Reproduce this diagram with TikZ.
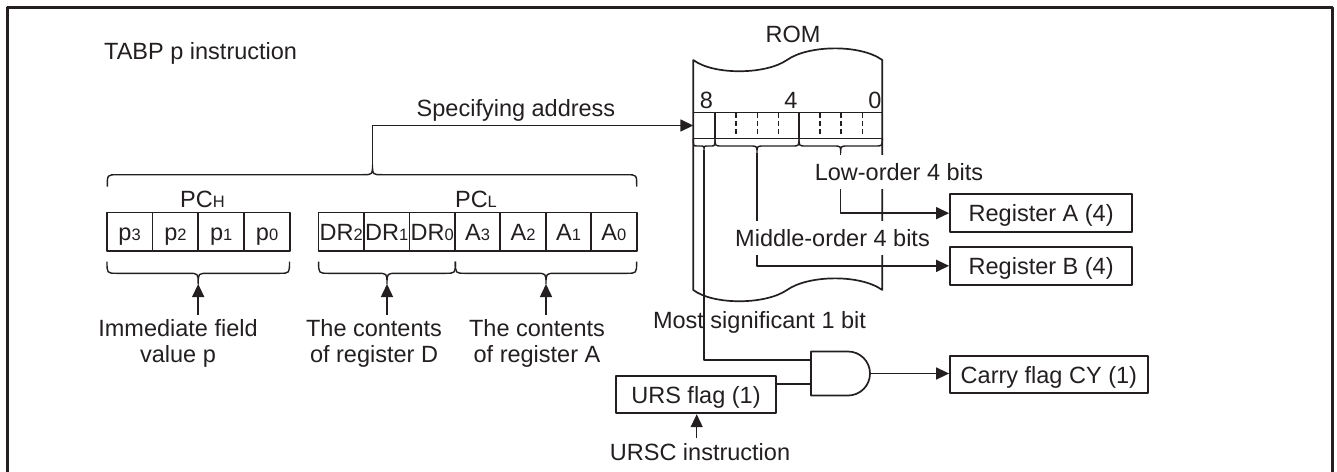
\documentclass[tikz,border=0pt]{standalone}
\usepackage{fontspec}
\setmainfont{Liberation Sans}
\usetikzlibrary{arrows.meta}
\definecolor{ink}{HTML}{231F20}
\newcommand\sbs[1]{{\fontsize{16.5}{16.5}\selectfont #1}}
% x1 x2 xmid yend ybar ytip radius
\newcommand\mybrace[7]{\draw[brc] (#1,#4) .. controls (#1,#5) .. ({#1+#7},#5) -- ({#3-#7},#5) .. controls (#3,#5) .. (#3,#6) .. controls (#3,#5) .. ({#3+#7},#5) -- ({#2-#7},#5) .. controls (#2,#5) .. (#2,#4);}
\begin{document}
\begin{tikzpicture}[x=1pt,y=-1pt,font=\fontsize{23.5}{26}\selectfont,color=ink,line join=round,
  box/.style={draw,line width=1.8pt,inner sep=0pt,text height=17pt,text depth=0pt},
  cell/.style={box,line width=1.6pt,minimum width=45.6pt,minimum height=38.4pt},
  conn/.style={line width=1.5pt},
  arr/.style={conn,-{Triangle[length=13pt,width=12pt]}},
  lbl/.style={inner sep=0pt,anchor=base},
  wlbl/.style={fill=white,inner xsep=2pt,inner ysep=0pt,text height=25.5pt,text depth=8pt,anchor=base},
  ml/.style={align=center,inner sep=0pt,anchor=north},
  brc/.style={line width=1.4pt}]
\useasboundingbox (0,0) rectangle (1337,471);
\begin{scope}
\clip (0,0) rectangle (1337,471);
\draw[line width=2.4pt] (7.3,480) -- (7.3,7.3) -- (1332.5,7.3) -- (1332.5,480);
\end{scope}

\node[lbl,anchor=base west] (title) at (104,59) {TABP p instruction};

% ROM
\draw[line width=1.7pt] (693.3,60) .. controls (713,75) and (765,75) .. (787,60) .. controls (808,45) and (860,44) .. (882.3,60) -- (882.3,290) .. controls (860,274) and (808,275) .. (787,290) .. controls (765,305) and (713,305) .. (693.3,290) -- cycle;
\node[lbl] (romlbl) at (793,42.3) {ROM};
\node[lbl] (b8) at (706.5,108.3) {8};
\node[lbl] (b4) at (791,108.3) {4};
\node[lbl] (b0) at (875,108.3) {0};
\draw[line width=1.5pt] (693.3,112.7) rectangle (882.3,138.3);
\draw[line width=1.5pt] (715,112.7) -- (715,138.3) (799,112.7) -- (799,138.3);
\foreach \x in {736,757.3,778.3,820,841,862.3}
  \draw[line width=1.1pt,dash pattern=on 5pt off 3.3pt] (\x,112.7) -- (\x,138.3);
\mybrace{693.3}{715}{704}{138.3}{146}{150}{4}
\mybrace{715}{799}{757}{138.3}{146}{153}{7}
\mybrace{799}{882.3}{840.7}{138.3}{146}{153}{7}
\coordinate (tip8) at (704,150);
\coordinate (tipM) at (757,153);
\coordinate (tipL) at (840.7,153);
\coordinate (romin) at (693.3,125.5);

% Program counter
\node[lbl] (pch) at (202.5,207.7) {PC\sbs{H}};
\node[lbl] (pcl) at (476,207.7) {PC\sbs{L}};
\node[cell] (p3) at (129.6,231.5) {p\sbs{3}};
\node[cell] (p2) at (175.4,231.5) {p\sbs{2}};
\node[cell] (p1) at (221.3,231.5) {p\sbs{1}};
\node[cell] (p0) at (267.1,231.5) {p\sbs{0}};
\node[cell] (dr2) at (341.3,231.5) {DR\sbs{2}};
\node[cell] (dr1) at (386.7,231.5) {DR\sbs{1}};
\node[cell] (dr0) at (432.2,231.5) {DR\sbs{0}};
\node[cell] (a3) at (477.6,231.5) {A\sbs{3}};
\node[cell] (a2) at (523.0,231.5) {A\sbs{2}};
\node[cell] (a1) at (568.5,231.5) {A\sbs{1}};
\node[cell] (a0) at (613.9,231.5) {A\sbs{0}};

\mybrace{107.3}{636.7}{372.5}{186.7}{174.7}{165}{10}
\coordinate (tipbig) at (372.5,165);
\mybrace{107}{289.5}{198.2}{261.7}{273.3}{284}{10}
\mybrace{318.6}{455.4}{387}{261.7}{273.3}{284}{10}
\mybrace{455.4}{636.6}{546}{261.7}{273.3}{284}{10}
\coordinate (tipH) at (198.2,284);
\coordinate (tipD) at (387,284);
\coordinate (tipA) at (546,284);

\draw[arr] (tipbig) |- (romin);
\node[lbl] (spec) at (516,116.7) {Specifying address};

\node[ml] (imm) at (178,319) {Immediate field\\value p};
\node[ml] (cond) at (374,319) {The contents\\of register D};
\node[ml] (cona) at (537,319) {The contents\\of register A};
\coordinate (aH) at (198.2,315);
\coordinate (aD) at (387,315);
\coordinate (aA) at (546,315);
\draw[arr] (aH) -- (tipH);
\draw[arr] (aD) -- (tipD);
\draw[arr] (aA) -- (tipA);

% registers
\node[box,minimum width=182.3pt,minimum height=38.3pt] (rega) at (1041.15,213.15) {Register A (4)};
\node[box,minimum width=182.3pt,minimum height=38.3pt] (regb) at (1041.15,265.85) {Register B (4)};
\node[box,minimum width=197.7pt,minimum height=37.6pt] (cy) at (1048.85,374.5) {Carry flag CY (1)};
\node[box,minimum width=160pt,minimum height=37.6pt] (urs) at (696,394.5) {URS flag (1)};

% AND gate
\draw[line width=1.7pt] (811,351.5) -- (848,351.5) .. controls (860.15,351.5) and (870,361.35) .. (870,373.5) .. controls (870,385.65) and (860.15,395.5) .. (848,395.5) -- (811,395.5) -- cycle;
\coordinate (gin1) at (811,360);
\coordinate (gin2) at (811,384);
\coordinate (gout) at (870,373.5);

\draw[conn] (tip8) |- (gin1);
\draw[conn] (urs.east |- gin2) -- (gin2);
\draw[arr] (gout) -- (gout -| cy.west);
\draw[arr] (tipM) |- (regb.west);
\draw[arr] (tipL) |- (rega.west);

\node[wlbl] (lowlbl) at (899,180.7) {Low-order 4 bits};
\node[wlbl] (midlbl) at (832.5,246.7) {Middle-order 4 bits};
\node[lbl] (msb) at (759.5,328) {Most significant 1 bit};

\node[lbl] (ursc) at (700,460) {URSC instruction};
\coordinate (urscup) at (696.7,438);
\draw[arr] (urscup) -- (urscup |- urs.south);
\end{tikzpicture}
\end{document}
